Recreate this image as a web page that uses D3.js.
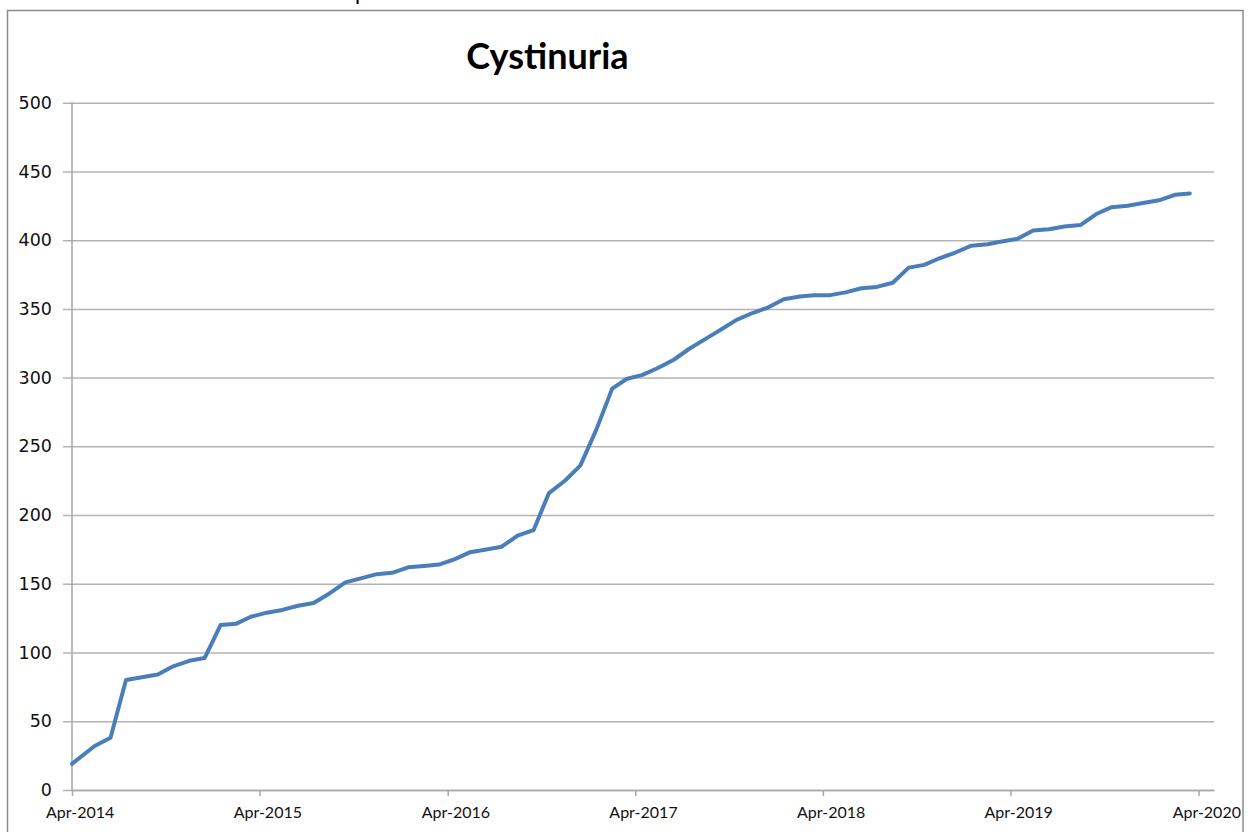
<!DOCTYPE html>
<html>
<head>
<meta charset="utf-8">
<script src="https://cdn.jsdelivr.net/npm/d3@7"></script>
<style>
  body { margin: 0; background: #fff; }
</style>
</head>
<body>
<div id="chart"></div>
<script>
// Cystinuria - cumulative count line chart

const dates = [
  "2014-04-01", "2014-05-15", "2014-06-15", "2014-07-15", "2014-08-15", "2014-09-15",
  "2014-10-15", "2014-11-15", "2014-12-15", "2015-01-15", "2015-02-15", "2015-03-15",
  "2015-04-15", "2015-05-15", "2015-06-15", "2015-07-15", "2015-08-15", "2015-09-15",
  "2015-10-15", "2015-11-15", "2015-12-15", "2016-01-15", "2016-02-15", "2016-03-15",
  "2016-04-15", "2016-05-15", "2016-06-15", "2016-07-15", "2016-08-15", "2016-09-15",
  "2016-10-15", "2016-11-15", "2016-12-15", "2017-01-15", "2017-02-15", "2017-03-15",
  "2017-04-15", "2017-05-15", "2017-06-15", "2017-07-15", "2017-08-15", "2017-09-15",
  "2017-10-15", "2017-11-15", "2017-12-15", "2018-01-15", "2018-02-15", "2018-03-15",
  "2018-04-15", "2018-05-15", "2018-06-15", "2018-07-15", "2018-08-15", "2018-09-15",
  "2018-10-15", "2018-11-15", "2018-12-15", "2019-01-15", "2019-02-15", "2019-03-15",
  "2019-04-15", "2019-05-15", "2019-06-15", "2019-07-15", "2019-08-15", "2019-09-15",
  "2019-10-15", "2019-11-15", "2019-12-15", "2020-01-15", "2020-02-15", "2020-03-15"
];

const counts = [
  19, 32, 38, 80, 82, 84, 90, 94, 96, 120, 121, 126,
  129, 131, 134, 136, 143, 151, 154, 157, 158, 162, 163, 164,
  168, 173, 175, 177, 185, 189, 216, 225, 236, 262, 292, 299,
  302, 307, 313, 321, 328, 335, 342, 347, 351, 357, 359, 360,
  360, 362, 365, 366, 369, 380, 382, 387, 391, 396, 397, 399,
  401, 407, 408, 410, 411, 419, 424, 425, 427, 429, 433, 434
];

const tickDates = ["2014-04-01", "2015-04-01", "2016-04-01", "2017-04-01",
                   "2018-04-01", "2019-04-01", "2020-04-01"];
const yTicks = [0, 50, 100, 150, 200, 250, 300, 350, 400, 450, 500];
const title = "Cystinuria";

const parse = d3.timeParse("%Y-%m-%d");
const fmt = d3.timeFormat("%b-%Y");

const width = 1250;
const height = 832;
const plotLeft = 72, plotRight = 1214, plotTop = 102.7, plotBottom = 790;

const svg = d3.select("#chart")
  .append("svg")
  .attr("width", width)
  .attr("height", height);

// chart frame (runs off the bottom of the picture)
svg.append("rect")
  .attr("x", 7.5)
  .attr("y", 10.5)
  .attr("width", 1235.5)
  .attr("height", 840)
  .attr("fill", "none")
  .attr("stroke", "#8c8c8c")
  .attr("stroke-width", 1.5);

// clipped bit of text above the frame, as in the source image
svg.append("text")
  .attr("x", 355)
  .attr("y", 0)
  .attr("font-family", "Lato")
  .attr("font-size", 22)
  .text("p");

const x = d3.scaleTime()
  .domain([parse("2014-04-01"), parse("2020-05-01")])
  .range([plotLeft, plotRight]);

const y = d3.scaleLinear()
  .domain([0, 500])
  .range([plotBottom, plotTop]);

// gridlines + y labels
const yAxis = svg.append("g")
  .attr("transform", `translate(${plotRight},0)`)
  .call(d3.axisLeft(y)
    .tickValues(yTicks)
    .tickSize(plotRight - 63)
    .tickPadding(11));
yAxis.select(".domain").remove();
yAxis.selectAll(".tick line")
  .attr("stroke", "#b3b3b3")
  .attr("stroke-width", 1.5);
yAxis.selectAll(".tick text")
  .attr("font-family", "DejaVu Sans")
  .attr("font-size", 17.5)
  .attr("fill", "#111");

// vertical axis line
svg.append("line")
  .attr("x1", x(parse(tickDates[0])))
  .attr("x2", x(parse(tickDates[0])))
  .attr("y1", y(500))
  .attr("y2", y(0))
  .attr("stroke", "#a6a6a6")
  .attr("stroke-width", 1.5);

// x axis, labels centred on the month
const halfMonth = x(parse("2014-04-16")) - x(parse("2014-04-01"));
const xAxis = svg.append("g")
  .attr("transform", `translate(0,${plotBottom})`)
  .call(d3.axisBottom(x)
    .tickValues(tickDates.map(parse))
    .tickSize(6)
    .tickSizeOuter(0)
    .tickFormat(fmt));
xAxis.select(".domain")
  .attr("stroke", "#a6a6a6")
  .attr("stroke-width", 1.5);
xAxis.selectAll(".tick line")
  .attr("stroke", "#a6a6a6")
  .attr("stroke-width", 1.5);
xAxis.selectAll(".tick text")
  .attr("font-family", "Lato")
  .attr("font-size", 16)
  .attr("fill", "#111")
  .attr("dy", null)
  .attr("y", 28)
  .attr("dx", halfMonth);

// the series
const line = d3.line()
  .x((d, i) => x(parse(dates[i])))
  .y(d => y(d));

svg.append("path")
  .datum(counts)
  .attr("fill", "none")
  .attr("stroke", "#4a7ebb")
  .attr("stroke-width", 4)
  .attr("stroke-linejoin", "round")
  .attr("stroke-linecap", "round")
  .attr("d", line);

// title
svg.append("text")
  .attr("x", 547.5)
  .attr("y", 69)
  .attr("text-anchor", "middle")
  .attr("font-family", "Lato")
  .attr("font-weight", "bold")
  .attr("font-size", 36)
  .attr("fill", "#000")
  .text(title);
</script>
</body>
</html>
